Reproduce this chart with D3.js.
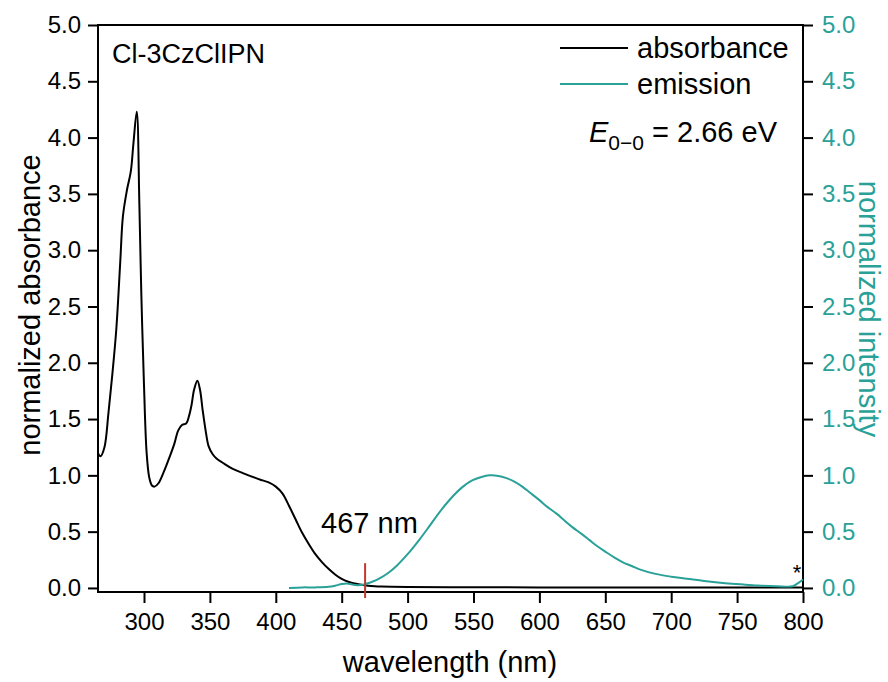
<!DOCTYPE html>
<html>
<head>
<meta charset="utf-8">
<script src="https://cdn.jsdelivr.net/npm/d3@7"></script>
<style>
  html, body { margin: 0; padding: 0; background: #fff; }
  svg { display: block; font-family: "Liberation Sans", Arial, sans-serif; }
</style>
</head>
<body>
<svg id="chart" width="888" height="682"></svg>
<script>
// ---- data ----
const absWavelength = [265, 267, 270, 273, 276, 279, 282, 284, 287, 290, 292, 294.5, 296.5, 298, 300, 302, 304, 306, 308, 311, 315, 319, 323, 326, 329, 332, 334, 336, 338, 340.5, 342.5, 344.5, 347, 349, 352, 355, 360, 367, 375, 385, 390, 395, 400, 405, 410, 415, 420, 425, 430, 435, 440, 445, 450, 455, 460, 465, 470, 475, 480, 500, 550, 600, 700, 800];
const absValues = [1.20, 1.17, 1.25, 1.55, 1.90, 2.30, 2.90, 3.30, 3.53, 3.70, 3.95, 4.23, 3.40, 2.60, 1.80, 1.20, 0.98, 0.91, 0.90, 0.93, 1.03, 1.15, 1.28, 1.40, 1.45, 1.46, 1.52, 1.62, 1.76, 1.84, 1.76, 1.58, 1.38, 1.26, 1.19, 1.15, 1.11, 1.06, 1.02, 0.975, 0.955, 0.935, 0.90, 0.84, 0.73, 0.61, 0.49, 0.39, 0.30, 0.23, 0.17, 0.12, 0.08, 0.055, 0.04, 0.028, 0.02, 0.015, 0.012, 0.008, 0.006, 0.005, 0.004, 0.004];

const emWavelength = [410, 420, 430, 440, 445, 450, 454, 458, 462, 467, 472, 478, 486, 492, 500, 509, 516, 524, 534, 542, 549, 556, 562, 569, 575, 581, 587, 593, 600, 606, 613, 619, 625, 632, 638, 644, 651, 657, 663, 670, 676, 688, 700, 712, 725, 741, 755, 766, 780, 792, 796, 800];
const emValues = [0.00, 0.005, 0.005, 0.01, 0.02, 0.035, 0.04, 0.03, 0.025, 0.03, 0.05, 0.08, 0.14, 0.20, 0.30, 0.43, 0.54, 0.67, 0.81, 0.90, 0.955, 0.985, 1.00, 0.995, 0.975, 0.945, 0.90, 0.845, 0.78, 0.72, 0.66, 0.60, 0.54, 0.48, 0.425, 0.37, 0.315, 0.27, 0.23, 0.195, 0.165, 0.125, 0.10, 0.082, 0.062, 0.042, 0.03, 0.022, 0.016, 0.015, 0.04, 0.075];

const xTicks = [300, 350, 400, 450, 500, 550, 600, 650, 700, 750, 800];
const yTicks = [0.0, 0.5, 1.0, 1.5, 2.0, 2.5, 3.0, 3.5, 4.0, 4.5, 5.0];
const onsetWavelength = 467;
const seriesNames = ["absorbance", "emission"];

// ---- styles ----
const TEAL = "#2aa198";
const RED = "#c0392b";
const tickFont = 24;
const titleFont = 29;

const svg = d3.select("#chart");
const mLeft = 98, mRight = 803, mTop = 25, mBottom = 592;

const x = d3.scaleLinear().domain([265.1, 800]).range([mLeft, mRight]);
const y = d3.scaleLinear().domain([-0.036, 5]).range([mBottom, mTop]);
const y2 = d3.scaleLinear().domain([-0.036, 5]).range([mBottom, mTop]);

// axes
const fmt = d3.format(".1f");
const gx = svg.append("g").attr("transform", `translate(0,${mBottom})`)
  .call(d3.axisBottom(x).tickValues(xTicks).tickSize(11).tickPadding(10).tickSizeOuter(0));
const gy = svg.append("g").attr("transform", `translate(${mLeft},0)`)
  .call(d3.axisLeft(y).tickValues(yTicks).tickFormat(fmt).tickSize(10).tickPadding(7).tickSizeOuter(0));
const gy2 = svg.append("g").attr("transform", `translate(${mRight},0)`)
  .call(d3.axisRight(y2).tickValues(yTicks).tickFormat(fmt).tickSize(10).tickPadding(9).tickSizeOuter(0));

[gx, gy, gy2].forEach(g => {
  g.select(".domain").remove();
  g.selectAll(".tick line").attr("stroke", "#000").attr("stroke-width", 2);
  g.selectAll(".tick text").attr("font-size", tickFont).attr("font-family", "Liberation Sans, Arial, sans-serif").attr("fill", "#000");
});
gy2.selectAll(".tick text").attr("fill", TEAL);

// frame
svg.append("rect").attr("x", mLeft).attr("y", mTop).attr("width", mRight - mLeft).attr("height", mBottom - mTop)
  .attr("fill", "none").attr("stroke", "#000").attr("stroke-width", 2);

// lines
const absData = absWavelength.map((w, i) => [w, absValues[i]]);
const emData = emWavelength.map((w, i) => [w, emValues[i]]);

svg.append("path").datum(absData)
  .attr("fill", "none").attr("stroke", "#000").attr("stroke-width", 2)
  .attr("d", d3.line().x(d => x(d[0])).y(d => y(d[1])).curve(d3.curveCatmullRom.alpha(0.5)));

svg.append("path").datum(emData)
  .attr("fill", "none").attr("stroke", TEAL).attr("stroke-width", 2)
  .attr("d", d3.line().x(d => x(d[0])).y(d => y2(d[1])).curve(d3.curveCatmullRom.alpha(0.5)));

// onset marker
svg.append("line")
  .attr("x1", x(onsetWavelength) + 1).attr("x2", x(onsetWavelength) + 1)
  .attr("y1", y(0.22)).attr("y2", y(-0.09))
  .attr("stroke", RED).attr("stroke-width", 2);

svg.append("text").attr("x", x(onsetWavelength) - 43).attr("y", 533)
  .attr("font-size", titleFont).text(onsetWavelength + " nm");

// asterisk
svg.append("text").attr("x", 797).attr("y", 580).attr("text-anchor", "middle")
  .attr("font-size", 22).text("*");

// compound label
svg.append("text").attr("x", 112).attr("y", 63).attr("font-size", 27).text("Cl-3CzClIPN");

// legend
const legendColors = ["#000", TEAL];
const legendY = [48, 84];
seriesNames.forEach((name, i) => {
  svg.append("line").attr("x1", 560).attr("x2", 628).attr("y1", legendY[i]).attr("y2", legendY[i])
    .attr("stroke", legendColors[i]).attr("stroke-width", 2);
  svg.append("text").attr("x", 637).attr("y", legendY[i] + 10).attr("font-size", titleFont).text(name);
});

// E0-0
const et = svg.append("text").attr("x", 589).attr("y", 142).attr("font-size", titleFont);
et.append("tspan").attr("font-style", "italic").text("E");
et.append("tspan").attr("font-size", 21).attr("dy", 8).text("0\u22120");
et.append("tspan").attr("dy", -8).text(" = 2.66 eV");

// axis titles
svg.append("text").attr("x", 450).attr("y", 672).attr("text-anchor", "middle")
  .attr("font-size", titleFont).text("wavelength (nm)");
svg.append("text").attr("transform", "translate(40,305) rotate(-90)").attr("text-anchor", "middle")
  .attr("font-size", titleFont).text("normalized absorbance");
svg.append("text").attr("transform", "translate(859,309) rotate(90)").attr("text-anchor", "middle")
  .attr("font-size", titleFont).attr("fill", TEAL).text("normalized intensity");
</script>
</body>
</html>
